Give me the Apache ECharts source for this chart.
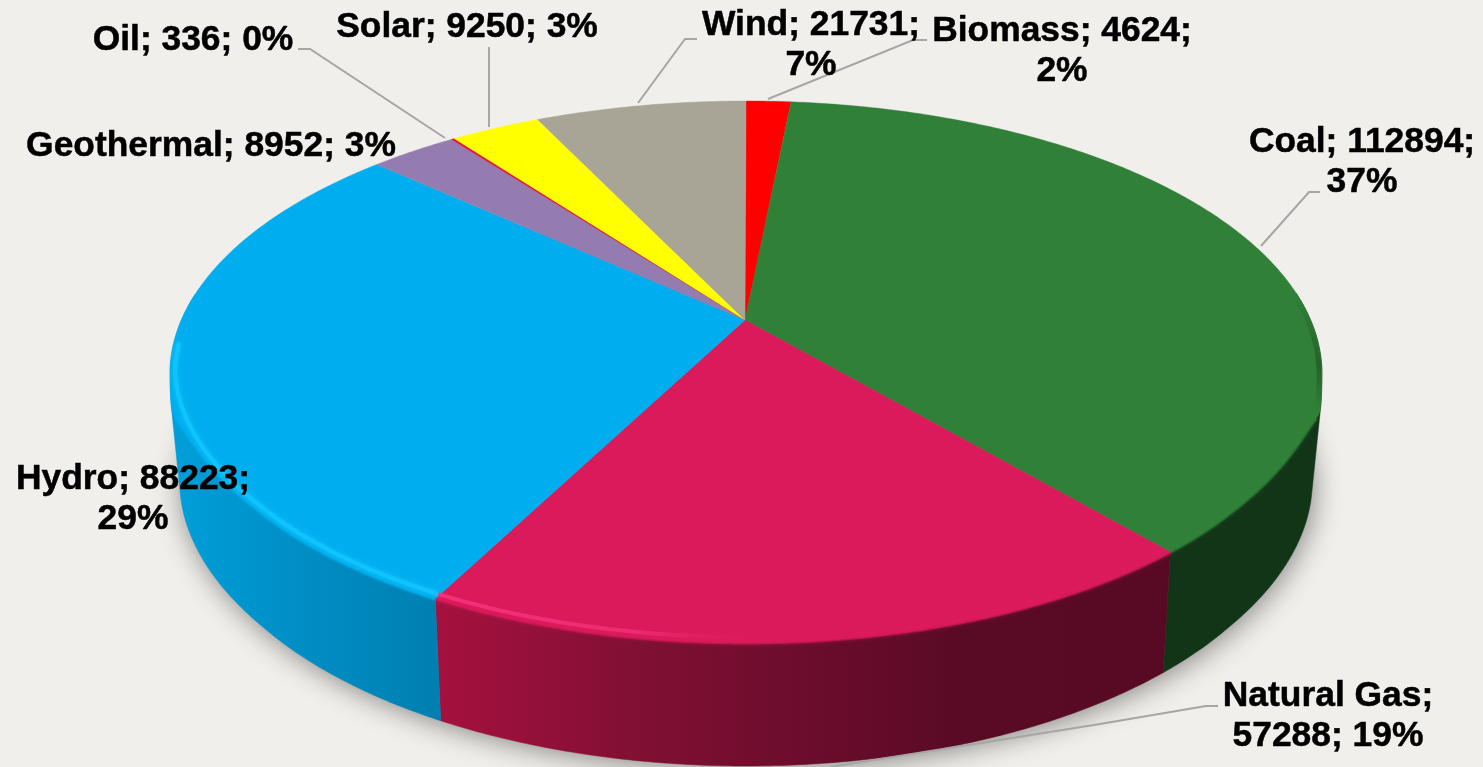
<!DOCTYPE html>
<html><head><meta charset="utf-8">
<style>html,body{margin:0;padding:0;background:#f0efeb}#c{width:1483px;height:767px}</style>
<script src="https://cdn.jsdelivr.net/npm/echarts@6/dist/echarts.min.js"></script>
</head><body><div id="c"></div>
<script>
// ---- data ----
const categories = ['Biomass','Coal','Natural Gas','Hydro','Geothermal','Oil','Solar','Wind'];
const generation = [4624,112894,57288,88223,8952,336,9250,21731];
// ---- styles ----
const topColors = ['#ff0000','#308137','#db1a5b','#00aeef','#947bb0','#e2173f','#ffff00','#a9a596'];
const wallFills = {
  'Coal':[[0,'#123518'],[1,'#123518']],
  'Natural Gas':[[0,'#a5113f'],[0.3,'#7e0f33'],[0.72,'#590a25'],[1,'#580a25']],
  'Hydro':[[0,'#009fda'],[0.45,'#008fc6'],[1,'#007fb0']]
};
// ---- layout (label centres, leader paths) ----
const labelLayout = {
  'Biomass':[1062,51,'value'], 'Coal':[1362,162,'value'], 'Natural Gas':[1328,716,'name'],
  'Hydro':[133,499,'value'], 'Geothermal':[211,146,''], 'Oil':[193,40,''],
  'Solar':[467,27,''], 'Wind':[811,45,'value']
};
const leaderPaths = [
  [[298,49],[310,49],[445,138]],
  [[489,47],[489,127]],
  [[697,39],[685,39],[638,103]],
  [[768,99],[913,40],[927,40]],
  [[1320,192],[1309,192],[1261,246]],
  [[1218,706],[1206,706],[1100,724],[830,767]]
];
const APEX = 0.198, CX = 746;
const TOP = {cy:374, rx:576, ryUp:273, ryDown:269, bump:22, bumpAt:0.05};
const BASE = {cy:490, rx:566, ry:276};
const GLOW = {cy:374, rx:571, ry:263};

const total = generation.reduce((a,b)=>a+b,0);
const bounds = generation.reduce((acc,v)=>{acc.push(acc[acc.length-1]+v/total);return acc;},[0]);

function unit(f){ // fraction round the pie -> point on the unit circle, perspective shifted
  const a = f*2*Math.PI, X = Math.sin(a), Y = -Math.cos(a);
  const d = 1 - APEX*Y;
  return [X*Math.sqrt(1-APEX*APEX)/d, (Y-APEX)/d];
}
function narrow(u){ return u[1]>0 ? 1-0.017*Math.min(1,u[1]/0.5) : 1; }
function rimPt(u){
  let y;
  if(u[1] < 0) y = TOP.cy + TOP.ryUp*u[1];
  else { const r=u[1]/TOP.bumpAt; y = TOP.cy + TOP.ryDown*u[1] + TOP.bump*r*Math.exp(1-r); }
  return [CX + TOP.rx*u[0]*narrow(u), y];
}
function basePt(u){ return [CX + BASE.rx*u[0]*narrow(u), BASE.cy + BASE.ry*u[1]]; }
function glowPt(u){ return [CX + GLOW.rx*u[0]*narrow(u), GLOW.cy + GLOW.ry*u[1]]; }
function sample(i){
  const a = bounds[i], b = bounds[i+1], n = Math.max(2, Math.ceil((b-a)*720)), out=[];
  for(let k=0;k<=n;k++) out.push(unit(a+(b-a)*k/n));
  return out;
}
function convexHull(points){
  const s=points.slice().sort((a,b)=>a[0]-b[0]||a[1]-b[1]);
  const cross=(o,a,b)=>(a[0]-o[0])*(b[1]-o[1])-(a[1]-o[1])*(b[0]-o[0]);
  const half=list=>{const h=[];for(const q of list){while(h.length>1&&cross(h[h.length-2],h[h.length-1],q)<=0)h.pop();h.push(q);}h.pop();return h;};
  return half(s).concat(half(s.slice().reverse()));
}
const apexPt = [745, TOP.cy - APEX*TOP.ryUp];
const dataRows = generation.map((v,i)=>[v,i]);
const base = {type:'custom', coordinateSystem:'none', silent:true, animation:false, data:dataRows};

function hullShadow(p){
  if(p.dataIndex!==0) return {type:'group',children:[]};
  const pts=[]; for(let k=0;k<360;k++) pts.push(basePt(unit(k/360)));
  return {type:'polygon',shape:{points:pts},style:{fill:'#a8a7a3',shadowBlur:28,shadowColor:'rgba(0,0,0,0.45)',shadowOffsetY:3,shadowOffsetX:2}};
}
function wall(p){
  const i=p.dataIndex, us=sample(i).filter(u=>u[1]>-0.3), name=categories[i], stops=wallFills[name];
  if(!stops||us.length<2) return {type:'group',children:[]};
  const hull=convexHull(us.map(rimPt).concat(us.map(basePt)));
  const xs=hull.map(q=>q[0]);
  const fill={type:'linear',x:Math.min(...xs),y:0,x2:Math.max(...xs),y2:0,global:true,colorStops:stops.map(s=>({offset:s[0],color:s[1]}))};
  return {type:'polygon',shape:{points:hull},style:{fill,stroke:fill,lineWidth:0.5}};
}
function face(p){
  const i=p.dataIndex, pts=[apexPt].concat(sample(i).map(rimPt));
  return {type:'polygon',shape:{points:pts},style:{fill:topColors[i],stroke:topColors[i],lineWidth:0.4}};
}
function bevel(p){
  const i=p.dataIndex, name=categories[i], kids=[];
  const us=sample(i);
  if(wallFills[name]){
    const low=us.filter(u=>u[1]>0.1).map(rimPt);
    kids.push({type:'polyline',shape:{points:low},style:{fill:null,stroke:topColors[i],lineWidth:3,opacity:0.55,shadowBlur:3,shadowColor:topColors[i]}});
  }
  if(name==='Coal'){
    const edge=us.filter(u=>u[1]>-0.3&&u[1]<0.1).map(rimPt).map(q=>[q[0]-3,q[1]]);
    const grad={type:'linear',x:0,y:294,x2:0,y2:412,global:true,colorStops:[{offset:0,color:'rgba(18,53,24,0)'},{offset:0.6,color:'rgba(18,53,24,0.4)'},{offset:1,color:'rgba(18,53,24,0)'}]};
    kids.push({type:'polyline',shape:{points:edge},style:{fill:null,stroke:grad,lineWidth:5}});
  }
  if(name==='Hydro'){
    const g=us.filter(u=>u[1]>-0.12).map(glowPt);
    kids.push({type:'polyline',shape:{points:g},style:{fill:null,stroke:'#10c4ff',lineWidth:4,shadowBlur:5,shadowColor:'#10c4ff'}});
  }
  if(name==='Natural Gas'){
    const g=us.filter(u=>u[0]<0.05).map(glowPt);
    const grad={type:'linear',x:437,y:0,x2:770,y2:0,global:true,colorStops:[{offset:0,color:'#f5307a'},{offset:0.6,color:'#ee2a70'},{offset:1,color:'rgba(219,26,91,0)'}]};
    kids.push({type:'polyline',shape:{points:g},style:{fill:null,stroke:grad,lineWidth:4}});
  }
  return {type:'group',children:kids};
}
function leader(p){
  const path=leaderPaths[p.dataIndex];
  if(!path) return {type:'group',children:[]};
  return {type:'polyline',shape:{points:path},style:{fill:null,stroke:'#a6a6a6',lineWidth:2}};
}
function labelText(i){
  const name=categories[i], v=generation[i], pct=Math.round(v/total*100)+'%', br=labelLayout[name][2];
  if(br==='name') return name+';\n'+v+'; '+pct;
  if(br==='value') return name+'; '+v+';\n'+pct;
  return name+'; '+v+'; '+pct;
}
function label(p){
  const i=p.dataIndex, L=labelLayout[categories[i]];
  return {type:'text',style:{text:labelText(i),x:L[0],y:L[1],fill:'#000',stroke:'#000',lineWidth:0.5,align:'center',verticalAlign:'middle',
    font:'bold 35.4px "Liberation Sans", Arial, sans-serif',lineHeight:40}};
}
const chart=echarts.init(document.getElementById('c'),null,{renderer:'canvas'});
chart.setOption({
  backgroundColor:'#f0efeb', animation:false,
  series:[hullShadow,wall,face,bevel,leader,label].map((fn,k)=>Object.assign({},base,{renderItem:fn,z:k+1}))
});
</script></body></html>
